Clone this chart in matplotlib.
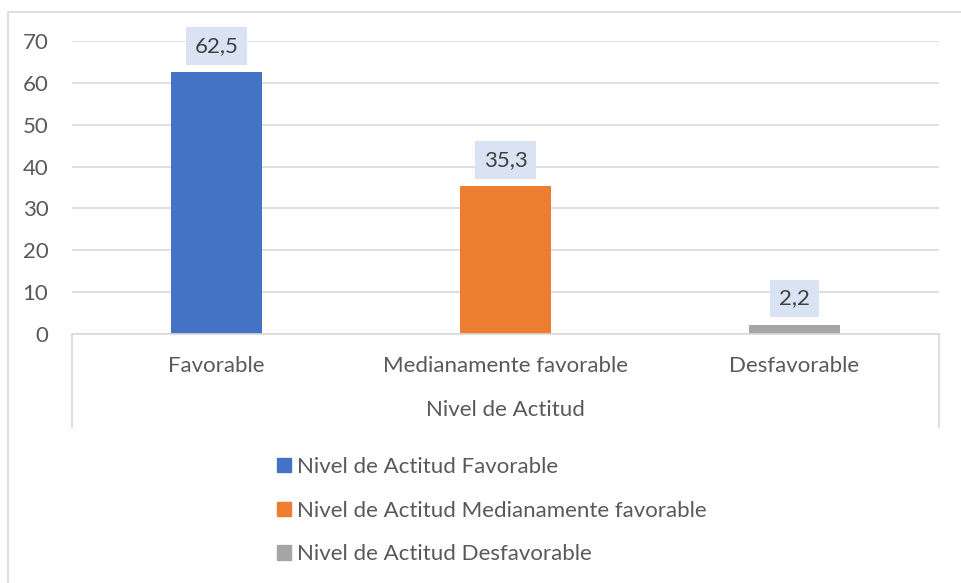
import matplotlib
matplotlib.use("Agg")
import matplotlib.pyplot as plt
from matplotlib.patches import Rectangle
from matplotlib.lines import Line2D

categories = ["Favorable", "Medianamente favorable", "Desfavorable"]
values = [62.5, 35.3, 2.2]
value_labels = ["62,5", "35,3", "2,2"]
legend_labels = ["Nivel de Actitud Favorable",
                 "Nivel de Actitud Medianamente favorable",
                 "Nivel de Actitud Desfavorable"]
axis_title = "Nivel de Actitud"
yticks = [0, 10, 20, 30, 40, 50, 60, 70]
colors = ["#4472C4", "#ED7D31", "#A5A5A5"]

plt.rcParams['font.family'] = ['Lato', 'DejaVu Sans']
FS = 16
W, H = 961, 583
fig = plt.figure(figsize=(W / 100, H / 100), dpi=100)

def fx(px):
    return px / W

def fy(py):
    return 1 - py / H

# outer chart border
fig.add_artist(Rectangle((fx(8), fy(700)), fx(1200), fy(12) - fy(700),
                         transform=fig.transFigure, fill=False,
                         edgecolor="#D9D9D9", linewidth=1.2))

ax = fig.add_axes([fx(72), fy(334), fx(939) - fx(72), fy(41) - fy(334)])
ax.set_xlim(-0.5, 2.5)
ax.set_ylim(0, 70)
bars = ax.bar(range(3), values, width=0.315, color=colors, zorder=3)

ax.set_yticks(yticks)
ax.set_yticklabels([str(t) for t in yticks], fontsize=FS, color="#595959")
ax.tick_params(axis='y', length=0, pad=17)
ax.set_xticks([])
ax.grid(axis='y', color="#D9D9D9", linewidth=1.2, zorder=0)
for s in ["top", "right", "left"]:
    ax.spines[s].set_visible(False)
ax.spines["bottom"].set_color("#D9D9D9")
ax.spines["bottom"].set_linewidth(1.2)
ax.spines["bottom"].set_zorder(4)

for i, (v, t) in enumerate(zip(values, value_labels)):
    ax.annotate(t, (i, v), xytext=(0, 19), textcoords="offset points",
                ha="center", va="center", fontsize=FS, color="#404040",
                bbox=dict(boxstyle="square,pad=0.4", facecolor="#DAE3F3",
                          edgecolor="none"), zorder=5)

# category labels and separators
for i, c in enumerate(categories):
    x_fig = fx(72) + (i + 0.5) / 3 * (fx(939) - fx(72))
    fig.text(x_fig, fy(366), c, ha="center", va="center", fontsize=FS,
             color="#595959")
fig.text((fx(72) + fx(939)) / 2, fy(410), axis_title, ha="center",
         va="center", fontsize=FS, color="#595959")
for xp in [72, 939]:
    fig.add_artist(Line2D([fx(xp), fx(xp)], [fy(334), fy(427)],
                          transform=fig.transFigure, color="#D9D9D9",
                          linewidth=1.2))

handles = [Rectangle((0, 0), 1, 1, color=c) for c in colors]
leg = fig.legend(handles, legend_labels, loc="upper left",
                 bbox_to_anchor=(fx(268), fy(448)), frameon=False,
                 fontsize=FS, handlelength=0.62, handleheight=0.62,
                 handletextpad=0.3, labelspacing=1.07, borderaxespad=0)
for t in leg.get_texts():
    t.set_color("#595959")

fig.savefig("out.png", dpi=100)
